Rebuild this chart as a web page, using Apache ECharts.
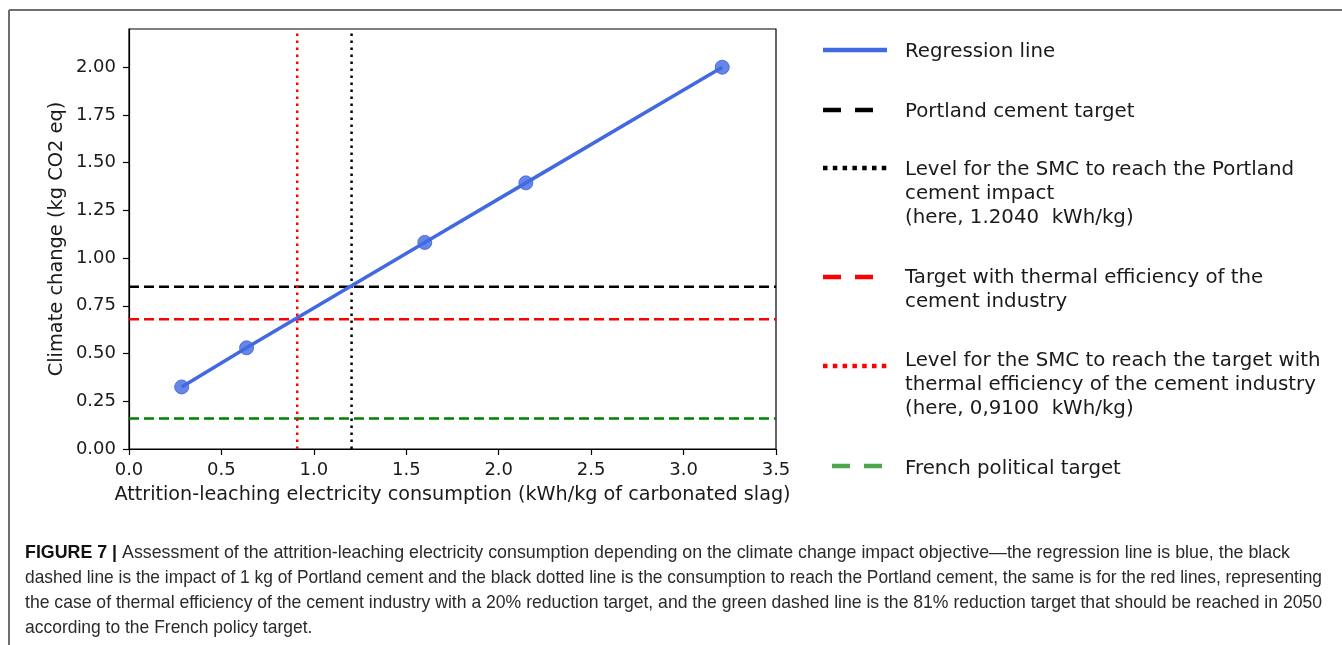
<!DOCTYPE html>
<html>
<head>
<meta charset="utf-8">
<script src="https://cdn.jsdelivr.net/npm/echarts@6/dist/echarts.min.js"></script>
<style>
  html, body { margin: 0; padding: 0; background: #fff; }
  #chart { width: 1342px; height: 645px; }
</style>
</head>
<body>
<div id="chart"></div>
<script>
// Electricity consumption (kWh/kg of carbonated slag) and climate change impact (kg CO2 eq)
const consumption = [0.285, 0.636, 1.60, 2.147, 3.209];
const climateImpact = [0.325, 0.530, 1.082, 1.394, 2.00];

// Reference levels
const portlandTarget = 0.85;      // kg CO2 eq of 1 kg of Portland cement
const thermalTarget = 0.68;       // with thermal efficiency of the cement industry
const frenchTarget = 0.16;        // French political target
const portlandLevel = 1.204;      // kWh/kg
const thermalLevel = 0.91;        // kWh/kg

// Axis ranges and ticks
const xRange = [0, 3.5];
const yRange = [0, 2.2];
const xTicks = [0, 0.5, 1.0, 1.5, 2.0, 2.5, 3.0, 3.5];
const yTicks = [0, 0.25, 0.5, 0.75, 1.0, 1.25, 1.5, 1.75, 2.0];

// Legend labels
const legendLabels = [
  'Regression line',
  'Portland cement target',
  'Level for the SMC to reach the Portland\ncement impact\n(here, 1.2040  kWh/kg)',
  'Target with thermal efficiency of the\ncement industry',
  'Level for the SMC to reach the target with\nthermal efficiency of the cement industry\n(here, 0,9100  kWh/kg)',
  'French political target'
];

// Caption
const captionLabel = 'FIGURE 7 | ';
const captionLines = [
  'Assessment of the attrition-leaching electricity consumption depending on the climate change impact objective\u2014the regression line is blue, the black',
  'dashed line is the impact of 1 kg of Portland cement and the black dotted line is the consumption to reach the Portland cement, the same is for the red lines, representing',
  'the case of thermal efficiency of the cement industry with a 20% reduction target, and the green dashed line is the 81% reduction target that should be reached in 2050',
  'according to the French policy target.'
];

const BLUE = '#4169e1';
const FONT = "'DejaVu Sans', sans-serif";
const CAPTION_FONT = "'Liberation Sans', Arial, sans-serif";
const TEXT = '#1a1a1a';

const dashed = [10, 5];
const dotted = [2.5, 4.5];

function hLine(name, y, color) {
  return {
    name, type: 'line', data: [[xRange[0], y], [xRange[1], y]],
    symbol: 'none', silent: true, z: 3,
    lineStyle: { color, width: 2.5, type: dashed, cap: 'butt' }
  };
}
function vLine(name, x, color) {
  return {
    name, type: 'line', data: [[x, yRange[0]], [x, yRange[1]]],
    symbol: 'none', silent: true, z: 3,
    lineStyle: { color, width: 2.5, type: dotted, cap: 'butt' }
  };
}

// Legend entries: symbol style and vertical positions
const legendTextX = 905, legendLineGap = 24;
const legendRows = [
  { y: 50,  text: 52,  stroke: BLUE,      dash: null,        x0: 823, x1: 887 },
  { y: 110, text: 112, stroke: '#000',    dash: [18, 14],    x0: 823, x1: 876 },
  { y: 168, text: 170, stroke: '#000',    dash: [4.5, 5.3],  x0: 823, x1: 887 },
  { y: 277, text: 278, stroke: '#ff0000', dash: [18, 14],    x0: 823, x1: 876 },
  { y: 366, text: 361, stroke: '#ff0000', dash: [4.5, 5.3],  x0: 823, x1: 887 },
  { y: 466, text: 469, stroke: '#4ea64e', dash: [18, 14],    x0: 832, x1: 885 }
];

const graphics = [];
// figure frame
graphics.push({ type: 'line', silent: true, shape: { x1: 9, y1: 10, x2: 1342, y2: 10 }, style: { stroke: '#6e6e6e', lineWidth: 2 } });
graphics.push({ type: 'line', silent: true, shape: { x1: 9, y1: 10, x2: 9, y2: 645 }, style: { stroke: '#6e6e6e', lineWidth: 2 } });

legendRows.forEach((r, i) => {
  graphics.push({
    type: 'line', silent: true,
    shape: { x1: r.x0, y1: r.y, x2: r.x1, y2: r.y },
    style: { stroke: r.stroke, lineWidth: 4.5, lineDash: r.dash, lineCap: 'butt' }
  });
  legendLabels[i].split('\n').forEach((t, k) => {
    graphics.push({
      type: 'text', silent: true, x: legendTextX, y: r.text + k * legendLineGap,
      style: { text: t, font: '19.8px ' + FONT, fill: TEXT, align: 'left', verticalAlign: 'middle' }
    });
  });
});

// caption: each line is stretched horizontally to its column width
const measureCtx = document.createElement('canvas').getContext('2d');
function textWidth(str, font) { measureCtx.font = font; return measureCtx.measureText(str).width; }
const capSize = 19;
const capFont = capSize + 'px ' + CAPTION_FONT;
const capBold = 'bold ' + capSize + 'px ' + CAPTION_FONT;
const capLeft = 25, capTop = 553, capGap = 25;
const capRights = [1290, 1322, 1322, null];
const capScales = captionLines.map((t, k) => {
  const w = textWidth(t, capFont) + (k === 0 ? textWidth(captionLabel, capBold) : 0);
  return capRights[k] ? (capRights[k] - capLeft) / w : null;
});
const avgScale = (capScales[1] + capScales[2]) / 2;
captionLines.forEach((t, k) => {
  const style = { text: t, font: capFont, fill: '#2a2a2a', align: 'left', verticalAlign: 'middle' };
  if (k === 0) {
    style.text = '{b|' + captionLabel + '}' + t;
    style.rich = { b: { fontFamily: CAPTION_FONT, fontSize: capSize, fontWeight: 'bold', fill: '#111' } };
  }
  graphics.push({
    type: 'text', silent: true, x: capLeft, y: capTop + k * capGap,
    scaleX: capScales[k] || avgScale,
    style
  });
});

const chart = echarts.init(document.getElementById('chart'), null, { renderer: 'canvas' });
chart.setOption({
  animation: false,
  backgroundColor: '#fff',
  grid: { left: 129, top: 29, width: 647, height: 420, show: true, borderColor: '#000', borderWidth: 1.2, backgroundColor: 'transparent' },
  xAxis: {
    type: 'value', min: xRange[0], max: xRange[1], interval: 0.5,
    name: 'Attrition-leaching electricity consumption (kWh/kg of carbonated slag)',
    nameLocation: 'middle', nameGap: 37,
    nameTextStyle: { fontFamily: FONT, fontSize: 19.2, color: TEXT },
    axisLine: { show: true, onZero: false, lineStyle: { color: '#000', width: 1.2 } },
    axisTick: { show: true, length: 6, lineStyle: { color: '#000', width: 1.2 }, customValues: xTicks },
    axisLabel: { fontFamily: FONT, fontSize: 18, color: TEXT, margin: 12, customValues: xTicks, formatter: v => v.toFixed(1) },
    splitLine: { show: false }
  },
  yAxis: {
    type: 'value', min: yRange[0], max: yRange[1],
    name: 'Climate change (kg CO2 eq)',
    nameLocation: 'middle', nameGap: 63,
    nameTextStyle: { fontFamily: FONT, fontSize: 19.4, color: TEXT },
    axisLine: { show: true, onZero: false, lineStyle: { color: '#000', width: 1.2 } },
    axisTick: { show: true, length: 6, lineStyle: { color: '#000', width: 1.2 }, customValues: yTicks },
    axisLabel: { fontFamily: FONT, fontSize: 18, color: TEXT, margin: 13, customValues: yTicks, formatter: v => v.toFixed(2) },
    splitLine: { show: false }
  },
  series: [
    hLine('Portland cement target', portlandTarget, '#000'),
    hLine('Target with thermal efficiency of the cement industry', thermalTarget, '#ff0000'),
    hLine('French political target', frenchTarget, '#008000'),
    vLine('Level for the SMC to reach the Portland cement impact', portlandLevel, '#000'),
    vLine('Level for the SMC to reach the target with thermal efficiency', thermalLevel, '#ff0000'),
    {
      name: 'Regression line', type: 'line', z: 5,
      data: consumption.map((x, i) => [x, climateImpact[i]]),
      symbol: 'circle', symbolSize: 14, showSymbol: true,
      itemStyle: { color: 'rgba(65,105,225,0.8)', borderColor: 'rgba(65,105,225,0.9)', borderWidth: 1 },
      lineStyle: { color: BLUE, width: 3.5 }
    }
  ],
  graphic: graphics
});
</script>
</body>
</html>
